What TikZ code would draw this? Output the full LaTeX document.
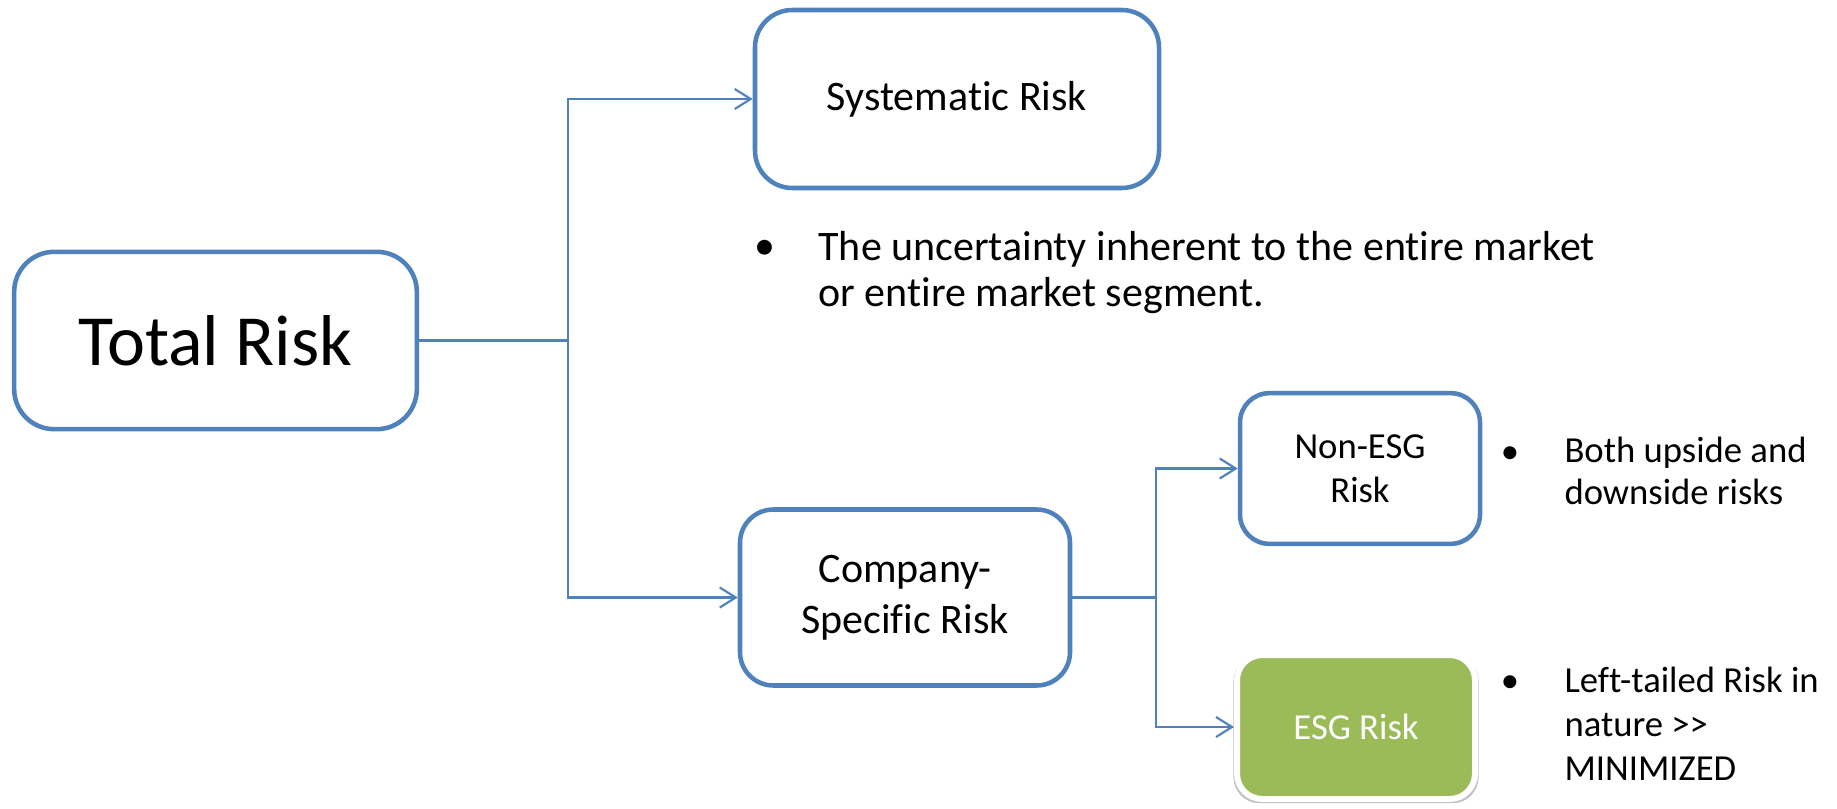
\documentclass[tikz,border=0pt]{standalone}
\usepackage{fontspec}
\setmainfont{Carlito}[Ligatures={NoCommon}]
\usetikzlibrary{arrows.meta,shadows}
\definecolor{riskblue}{HTML}{4F81BD}
\definecolor{esggreen}{HTML}{9BBB59}
\tikzset{every picture/.style={line width=0.75pt}}
\tikzset{
  riskbox/.style={draw=riskblue, line width=3.4pt, fill=white, rounded corners=#1, align=center, inner sep=0pt},
  riskbox/.default=25pt,
  esgbox/.style={draw=white, line width=4.5pt, fill=esggreen, rounded corners=19pt, text=white, align=center, inner sep=0pt,
    drop shadow={shadow xshift=0pt, shadow yshift=-1.5pt, shadow scale=1.03, opacity=0.35, fill=black!70}},
  link/.style={draw=riskblue, line width=1.6pt},
  linkarrow/.style={link, -{Straight Barb[length=12pt,width=15pt]}},
  bigtxt/.style={font=\fontsize{54}{60}\selectfont},
  midtxt/.style={font=\fontsize{31.5}{38}\selectfont},
  notetxt/.style={font=\fontsize{31.5}{34.5}\selectfont, align=left, inner sep=0pt},
  smalltxt/.style={font=\fontsize{27.5}{33}\selectfont},
  sidetxt/.style={font=\fontsize{27.5}{31}\selectfont, align=left, inner sep=0pt},
}

\begin{document}
\begin{tikzpicture}[x=0.75pt,y=0.75pt,yscale=-1,xscale=1]
\useasboundingbox (0,0) rectangle (1837,809);

% Rounded Rect
\draw (215.5,340.5) node [riskbox=30pt, minimum width=302pt, minimum height=133pt, bigtxt] (total) {Total Risk};
% Rounded Rect
\draw (957,99) node [riskbox=28pt, minimum width=303pt, minimum height=133.5pt, midtxt] (sys) {Systematic Risk};
% Rounded Rect
\draw (905,597.5) node [riskbox, minimum width=247.5pt, minimum height=132pt, midtxt] (comp) {Company-\\Specific Risk};
% Rounded Rect
\draw (1360,468.5) node [riskbox=22pt, minimum width=180pt, minimum height=113pt, smalltxt] (nonesg) {Non-ESG\\Risk};
% Rounded Rect
\draw (1356,727) node [esgbox, minimum width=178.5pt, minimum height=108pt, smalltxt] (esg) {ESG Risk};

% Connector
\coordinate (fork1) at (568,340.5);
\coordinate (fork2) at (1156,597.5);
\draw [link] (total.east) -- (fork1);
\draw [linkarrow] (fork1) |- (sys.west);
\draw [linkarrow] (fork1) |- (comp.west);
\draw [link] (comp.east) -- (fork2);
\draw [linkarrow] (fork2) |- (nonesg.west);
\draw [linkarrow] (fork2) |- (esg.west);

% Text Node (base = last line)
\draw (765,260) node [anchor=base, midtxt, inner sep=0pt] (dotsys) {\textbullet};
\draw (818,306) node [anchor=base west, notetxt] (sysnote) {The uncertainty inherent to the entire market\\or entire market segment.};
% Text Node
\draw (1510,463) node [anchor=base, smalltxt, inner sep=0pt] (dotnon) {\textbullet};
\draw (1564,504) node [anchor=base west, sidetxt] (nonnote) {Both upside and\\downside risks};
% Text Node
\draw (1510,692) node [anchor=base, smalltxt, inner sep=0pt] (dotesg) {\textbullet};
\draw (1564,780) node [anchor=base west, sidetxt, font=\fontsize{27.5}{33}\selectfont] (esgnote) {Left-tailed Risk in\\nature >{}>\\MINIMIZED};
\end{tikzpicture}
\end{document}
